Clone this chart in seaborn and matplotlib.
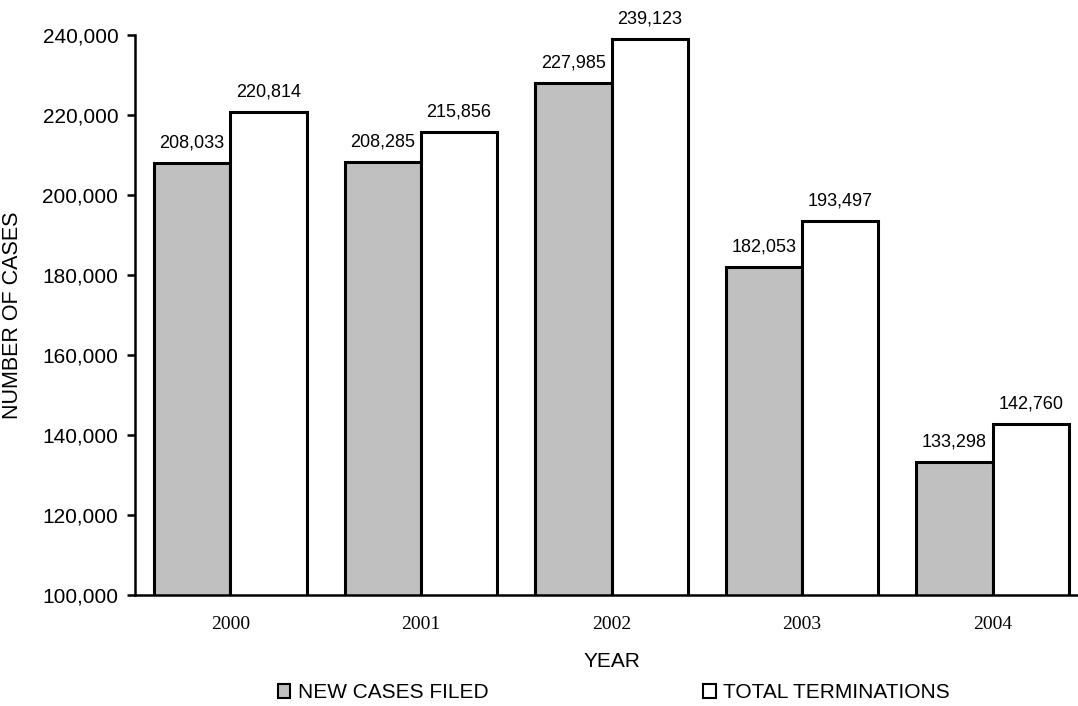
import pandas as pd
import matplotlib.pyplot as plt
import matplotlib.ticker as mticker
from matplotlib.patches import Patch
import seaborn as sns

years = ['2000', '2001', '2002', '2003', '2004']
new_cases = [208033, 208285, 227985, 182053, 133298]
terminations = [220814, 215856, 239123, 193497, 142760]
series_names = ['NEW CASES FILED', 'TOTAL TERMINATIONS']
colors = {'NEW CASES FILED': '#c0c0c0', 'TOTAL TERMINATIONS': '#ffffff'}

df = pd.DataFrame({
    'year': years * 2,
    'cases': new_cases + terminations,
    'series': [series_names[0]] * len(years) + [series_names[1]] * len(years),
})

sns.set_style('white')
plt.rcParams['font.family'] = ['Liberation Sans', 'DejaVu Sans']
plt.rcParams.update({'text.color': 'black', 'axes.labelcolor': 'black',
                     'xtick.color': 'black', 'ytick.color': 'black'})

fig = plt.figure(figsize=(10.78, 7.06), dpi=100)
ax = fig.add_axes([135 / 1078, 111 / 706, 953 / 1078, 560 / 706])

sns.barplot(data=df, x='year', y='cases', hue='series', hue_order=series_names,
            palette=colors, edgecolor='black', linewidth=2.2, saturation=1,
            legend=False, ax=ax)

# значения над столбцами
for cont in ax.containers:
    ax.bar_label(cont, labels=[f'{v:,.0f}' for v in cont.datavalues],
                 padding=8, fontsize=13, color='black')

ax.set_ylim(100000, 240000)
ax.set_xlim(-0.5, 4.5)
ax.yaxis.set_major_locator(mticker.MultipleLocator(20000))
ax.yaxis.set_major_formatter(mticker.FuncFormatter(lambda v, p: f'{v:,.0f}'))

for s in ['top', 'right']:
    ax.spines[s].set_visible(False)
for s in ['left', 'bottom']:
    ax.spines[s].set_linewidth(1.8)
    ax.spines[s].set_color('black')

ax.tick_params(axis='y', direction='out', length=6, width=1.8, labelsize=15, pad=6, left=True)
ax.tick_params(axis='x', length=0, pad=15)
for lab in ax.get_xticklabels():
    lab.set_fontfamily('Liberation Serif')
    lab.set_fontsize(14)

ax.set_xlabel('YEAR', fontsize=15, labelpad=14)
ax.set_ylabel('NUMBER OF CASES', fontsize=15.5, labelpad=14)

handles = [Patch(facecolor=colors[n], edgecolor='black', linewidth=1.5, label=n) for n in series_names]
fig.legend(handles=handles, loc='center', bbox_to_anchor=(613.5 / 1078, 13 / 706),
           ncol=2, frameon=False, fontsize=15, handlelength=0.62, handleheight=0.62,
           handletextpad=0.34, columnspacing=10.3, borderaxespad=0)

fig.savefig('out.png', dpi=100)
